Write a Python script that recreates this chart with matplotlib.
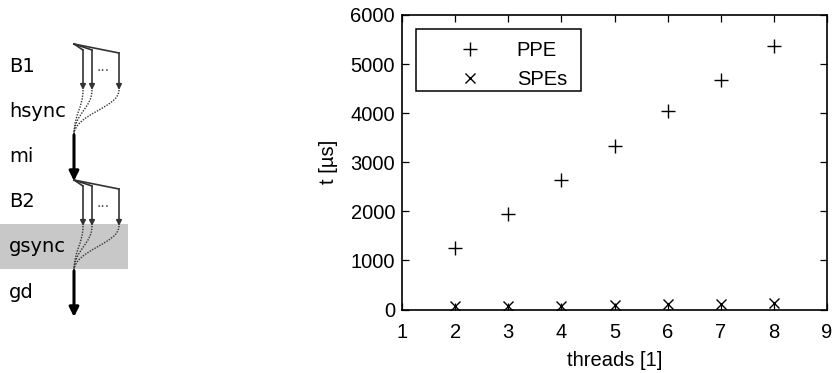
import numpy as np
import matplotlib.pyplot as plt
from matplotlib.path import Path
from matplotlib.patches import PathPatch, Rectangle

# timings per thread count
threads = [2, 3, 4, 5, 6, 7, 8]
ppe_us = [1260, 1950, 2640, 3330, 4040, 4680, 5360]
spe_us = [70, 75, 80, 90, 105, 120, 130]

# phase labels of the execution scheme
phases = ["B1", "hsync", "mi", "B2", "gsync", "gd"]
block_names = ["...", "..."]

plt.rcParams['font.family'] = ['Liberation Sans', 'DejaVu Sans']

fig = plt.figure(figsize=(8.34, 3.73), dpi=100)

# ---- execution scheme (pixel coordinates) ----
axd = fig.add_axes([0, 0, 1, 1])
axd.set_xlim(0, 834)
axd.set_ylim(373, 0)
axd.axis('off')

axd.add_patch(Rectangle((0, 224), 128, 45, color='#c8c8c8', lw=0, zorder=0))

for i, name in enumerate(phases):
    axd.text(9, 66 + 45.2 * i, name, fontsize=14, family='DejaVu Sans',
             va='center', ha='left')

x0 = 74
branch_x = [83, 92, 119]
for b in range(2):
    top = 44 + 136 * b
    # fan out of the worker branches
    for bx in branch_x:
        yb = top + (6 if bx < 100 else 9)
        axd.plot([x0, bx], [top, yb], color='#333333', lw=1.2)
        axd.annotate('', xy=(bx, top + 46), xytext=(bx, yb),
                     arrowprops=dict(arrowstyle='-|>', color='#333333', lw=1.2,
                                     mutation_scale=8, shrinkA=0, shrinkB=0))
        # dotted join into the sync point
        verts = [(bx, top + 46), (bx, top + 64), (x0, top + 70), (x0, top + 91)]
        path = Path(verts, [Path.MOVETO, Path.CURVE4, Path.CURVE4, Path.CURVE4])
        axd.add_patch(PathPatch(path, fill=False, ec='#333333', lw=1.0, ls=(0, (1, 1))))
    axd.text(103, top + 23, block_names[b], fontsize=10, color='#444444',
             family='DejaVu Sans', ha='center', va='center')
    axd.annotate('', xy=(x0, top + 137), xytext=(x0, top + 91),
                 arrowprops=dict(arrowstyle='-|>', color='black', lw=2.2,
                                 mutation_scale=14, shrinkA=0, shrinkB=0))

# ---- timing plot ----
fs = 14.5
ax = fig.add_axes([402 / 834, (373 - 309.5) / 373, 425 / 834, 294.5 / 373])
ax.plot(threads, ppe_us, ls='none', marker='+', ms=10, mew=1.0, color='black', label='PPE')
ax.plot(threads, spe_us, ls='none', marker='x', ms=7.5, mew=1.0, color='black', label='SPEs')
ax.set_xlim(1, 9)
ax.set_ylim(0, 6000)
ax.set_xticks(range(1, 10))
ax.set_yticks(range(0, 6001, 1000))
ax.tick_params(direction='in', top=True, right=True, length=5, width=0.9,
               labelsize=fs, pad=5)
ax.tick_params(axis='x', pad=10)
for sp in ax.spines.values():
    sp.set_linewidth(1.2)
ax.set_xlabel('threads [1]', fontsize=fs, labelpad=6)
ax.set_ylabel('t [µs]', fontsize=fs, labelpad=9)

# legend box drawn separately so the entries sit centred in it
ax.add_patch(Rectangle((0.033, 0.742), 0.388, 0.2105, transform=ax.transAxes,
                       fc='white', ec='black', lw=1.1, zorder=4.9))
leg = ax.legend(loc='upper left', bbox_to_anchor=(0.052, 0.912), fontsize=fs,
                frameon=False, handlelength=4.6, handletextpad=0.0, borderpad=0.0,
                labelspacing=0.5, borderaxespad=0)

fig.savefig('out.png', dpi=100)
